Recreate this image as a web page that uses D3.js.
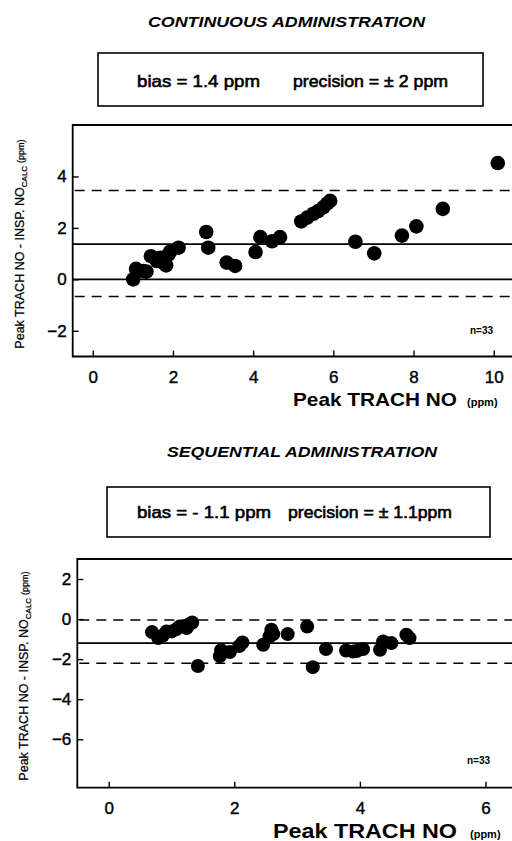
<!DOCTYPE html>
<html><head><meta charset="utf-8">
<script src="https://cdn.jsdelivr.net/npm/d3@7"></script>
<style>body{margin:0;background:#fff}svg{display:block}text{font-family:"Liberation Sans",Arial,Helvetica,sans-serif;fill:#000}</style>
</head><body>
<script>
// ---- data ----
const contTitle = "CONTINUOUS ADMINISTRATION";
const contStats = ["bias = 1.4 ppm", "precision = \u00B1 2 ppm"];
const contX = [1.01,1.08,1.26,1.34,1.45,1.6,1.68,1.78,1.83,1.88,1.93,2.14,2.83,2.88,3.34,3.55,4.06,4.18,4.47,4.67,5.2,5.35,5.5,5.62,5.75,5.85,5.92,6.55,7.02,7.71,8.07,8.73,10.1];
const contY = [0.0,0.41,0.32,0.3,0.9,0.71,0.84,0.62,0.54,0.95,1.08,1.23,1.84,1.23,0.65,0.52,1.06,1.64,1.48,1.64,2.25,2.4,2.55,2.65,2.8,2.95,3.05,1.46,1.01,1.7,2.06,2.74,4.52];
const contSolid = [1.37, 0];
const contDashed = [3.45, -0.67];
const contXTicks = [0,2,4,6,8,10];
const contYTicks = [-2,0,2,4];

const seqTitle = "SEQUENTIAL ADMINISTRATION";
const seqStats = ["bias = - 1.1 ppm", "precision = \u00B1 1.1ppm"];
const seqX = [0.69,0.79,0.86,0.92,1.0,1.08,1.13,1.24,1.27,1.33,1.42,1.77,1.79,1.93,2.08,2.13,2.46,2.56,2.59,2.62,2.85,3.16,3.25,3.46,3.78,3.89,3.95,4.05,4.32,4.37,4.5,4.74,4.79];
const seqY = [-0.65,-0.95,-0.83,-0.62,-0.62,-0.5,-0.37,-0.45,-0.28,-0.17,-2.34,-1.85,-1.55,-1.65,-1.35,-1.17,-1.28,-0.87,-0.53,-0.75,-0.75,-0.37,-2.4,-1.5,-1.57,-1.62,-1.6,-1.5,-1.53,-1.12,-1.2,-0.78,-0.95];
const seqSolid = [-1.2];
const seqDashed = [-0.05, -2.2];
const seqXTicks = [0,2,4,6];
const seqYTicks = [-6,-4,-2,0,2];

const nLabel = "n=33";
const xTitle = "Peak TRACH NO";
const xUnit = "(ppm)";

const W = 512, H = 841;
const svg = d3.select("body").append("svg").attr("width", W).attr("height", H);

function panel(o) {
  const g = svg.append("g");
  // title
  g.append("text").attr("x", o.titleX).attr("y", o.titleY)
    .attr("font-size", 14).attr("font-weight", "bold").attr("font-style", "italic")
    .attr("textLength", o.titleW).attr("lengthAdjust", "spacingAndGlyphs")
    .text(o.title);
  // stats box
  g.append("rect").attr("x", o.box[0]).attr("y", o.box[1]).attr("width", o.box[2]).attr("height", o.box[3])
    .attr("fill", "none").attr("stroke", "#000").attr("stroke-width", 1.6);
  [o.s1, o.s2].forEach((s, i) => {
    g.append("text").attr("x", s[0]).attr("y", s[1]).attr("font-size", 16.5)
      .attr("stroke", "#000").attr("stroke-width", 0.6)
      .attr("textLength", s[2]).attr("lengthAdjust", "spacingAndGlyphs").text(o.stats[i]);
  });

  const x = d3.scaleLinear().domain(o.xDom).range([o.left, o.right]);
  const y = d3.scaleLinear().domain(o.yDom).range([o.bottom, o.top]);

  const cid = "clip" + o.id;
  svg.append("clipPath").attr("id", cid).append("rect")
    .attr("x", o.left).attr("y", o.top).attr("width", o.right - o.left).attr("height", o.bottom - o.top);

  // reference lines
  g.selectAll(null).data(o.solid).enter().append("line")
    .attr("x1", o.left).attr("x2", W).attr("y1", d => y(d)).attr("y2", d => y(d))
    .attr("stroke", "#000").attr("stroke-width", 1.6);
  g.selectAll(null).data(o.dashed).enter().append("line")
    .attr("x1", o.left + 2).attr("x2", W).attr("y1", d => y(d)).attr("y2", d => y(d))
    .attr("stroke", "#000").attr("stroke-width", 1.5).attr("stroke-dasharray", "10,7");

  // points
  g.append("g").attr("clip-path", `url(#${cid})`).selectAll("circle")
    .data(o.xs.map((v, i) => [v, o.ys[i]])).enter().append("circle")
    .attr("cx", d => x(d[0])).attr("cy", d => y(d[1])).attr("r", o.r).attr("fill", "#000");

  // frame (top, left, bottom)
  g.append("path").attr("d", `M${W},${o.top}H${o.left}V${o.bottom}H${W}`)
    .attr("fill", "none").attr("stroke", "#000").attr("stroke-width", 1.8);

  // axes
  const xa = g.append("g").attr("transform", `translate(0,${o.bottom})`)
    .call(d3.axisBottom(x).tickValues(o.xTicks).tickSize(-6).tickPadding(14).tickFormat(d3.format("d")));
  xa.select(".domain").remove();
  xa.selectAll("line").attr("stroke-width", 1.4);
  xa.selectAll("text").attr("font-size", o.tickFs).attr("font-family", "Liberation Sans, Arial, sans-serif")
    .attr("fill", "#000").attr("stroke", "#000").attr("stroke-width", 0.4);

  const ya = g.append("g").attr("transform", `translate(${o.left},0)`)
    .call(d3.axisLeft(y).tickValues(o.yTicks).tickSize(-6).tickPadding(6).tickFormat(d3.format("d")));
  ya.select(".domain").remove();
  ya.selectAll("line").attr("stroke-width", 1.4);
  ya.selectAll("text").attr("font-size", o.tickFs).attr("font-family", "Liberation Sans, Arial, sans-serif")
    .attr("fill", "#000").attr("stroke", "#000").attr("stroke-width", 0.4);

  // n label
  g.append("text").attr("x", o.n[0]).attr("y", o.n[1]).attr("font-size", 10).attr("font-weight", "bold").text(nLabel);

  // x title
  const xt = g.append("text").attr("x", o.xt[0]).attr("y", o.xt[1]).attr("font-weight", "bold");
  xt.append("tspan").attr("font-size", o.xtFs).attr("textLength", o.xt[2]).attr("lengthAdjust", "spacingAndGlyphs").text(xTitle);
  xt.append("tspan").attr("x", o.xt[3]).attr("font-size", 11).text(xUnit);

  // y title
  const yt = g.append("text").attr("transform", `translate(${o.yt[0]},${o.yt[1]}) rotate(-90)`)
    .attr("text-anchor", "middle").attr("font-size", 12.5).attr("stroke", "#000").attr("stroke-width", 0.25);
  yt.append("tspan").text("Peak TRACH NO - INSP. NO");
  yt.append("tspan").attr("font-size", 8).attr("dy", 3).text("CALC");
  yt.append("tspan").attr("font-size", 9).attr("dy", -3).attr("dx", 3).text("(ppm)");
}

panel({
  id: "a", title: contTitle, titleX: 148, titleY: 27, titleW: 277,
  box: [98, 53, 385, 53], stats: contStats, s1: [137, 87, 123], s2: [293, 87, 155],
  xDom: [-0.5, 11], yDom: [-3, 6], left: 72.7, right: 72.7 + 11.5 * 40.1, top: 125, bottom: 356.5,
  xs: contX, ys: contY, solid: contSolid, dashed: contDashed, r: 7.3,
  xTicks: contXTicks, yTicks: contYTicks, tickFs: 17,
  n: [470, 334], xt: [293, 406, 164, 467], xtFs: 18.5, yt: [24, 244]
});

panel({
  id: "b", title: seqTitle, titleX: 167, titleY: 457, titleW: 270,
  box: [107, 487, 383, 50], stats: seqStats, s1: [137, 518, 134], s2: [288, 518, 164],
  xDom: [-0.5, 7], yDom: [-8.42, 3], left: 77.3, right: 77.3 + 7.5 * 62.8, top: 559, bottom: 787.7,
  xs: seqX, ys: seqY, solid: seqSolid, dashed: seqDashed, r: 7,
  xTicks: seqXTicks, yTicks: seqYTicks, tickFs: 17,
  n: [467, 764], xt: [273, 838, 184, 470], xtFs: 20.5, yt: [28, 676]
});
</script>
</body></html>
